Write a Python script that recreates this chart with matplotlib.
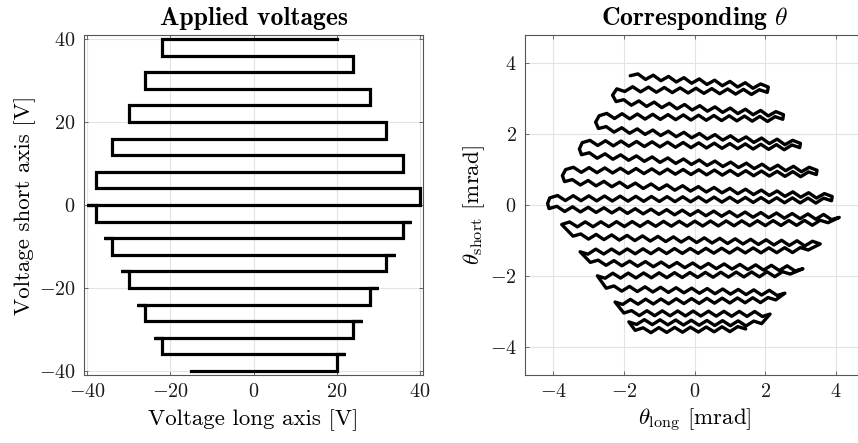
import numpy as np
import matplotlib
matplotlib.use('Agg')
import matplotlib.pyplot as plt

plt.rcParams['font.family'] = 'cmr10'
plt.rcParams['mathtext.fontset'] = 'cm'
plt.rcParams['axes.formatter.use_mathtext'] = True
plt.rcParams['axes.unicode_minus'] = True

# ---- Left panel: applied voltage scan path (vertices) [V] ----
v_long = [20, -22, -22, 24, 24, -26, -26, 28, 28, -30, -30, 32, 32, -34, -34, 36, 36, -38, -38, 40,
          40, -40, -38, -38, 38, 36, 36, -36, -34, -34, 34, 32, 32, -32, -30, -30, 30, 28, 28, -28,
          -26, -26, 26, 24, 24, -24, -22, -22, 22, 20, 20, -15]
v_short = [40, 40, 36, 36, 32, 32, 28, 28, 24, 24, 20, 20, 16, 16, 12, 12, 8, 8, 4, 4,
           0, 0, 0, -4, -4, -4, -8, -8, -8, -12, -12, -12, -16, -16, -16, -20, -20, -20, -24, -24,
           -24, -28, -28, -28, -32, -32, -32, -36, -36, -36, -40, -40]

# ---- Right panel: measured theta path corners [mrad] ----
th_long = [-1.82, 2.09, 2.06, -2.20, -2.32, -2.22, 2.52, 2.50, -2.70, -2.80, -2.72, 3.00, 2.98,
           -3.18, -3.26, -3.20, 3.47, 3.45, -3.65, -3.74, -3.68, 3.90, 3.88, -4.10, -4.16, -4.12,
           4.10, 3.78, -3.76, -3.44, 3.56, 3.22, -3.24, -2.95, 3.07, 2.71, -2.75, -2.50, 2.56, 2.30,
           -2.25, -2.00, 2.14, 1.90, -1.86, -1.68, 1.45]
th_short = [3.65, 3.33, 3.18, 3.28, 3.10, 2.92, 2.55, 2.42, 2.52, 2.34, 2.16, 1.74, 1.62,
            1.76, 1.58, 1.42, 0.98, 0.86, 1.00, 0.83, 0.66, 0.24, 0.12, 0.20, 0.04, -0.10,
            -0.35, -0.50, -0.55, -0.88, -1.10, -1.27, -1.32, -1.62, -1.80, -1.95, -2.00, -2.35, -2.49, -2.68,
            -2.74, -3.05, -3.08, -3.35, -3.30, -3.54, -3.50]
ripple_amp = 0.07      # half peak-to-peak of the scan-line oscillation [mrad]
ripple_half = 0.22     # half period of the oscillation along theta_long [mrad]


def rippled(xs, ys):
    ox, oy = [xs[0]], [ys[0]]
    for i in range(1, len(xs)):
        x0, y0, x1, y1 = xs[i - 1], ys[i - 1], xs[i], ys[i]
        dx = x1 - x0
        if abs(dx) > 0.8:
            n = int(round(abs(dx) / ripple_half))
            for k in range(1, n):
                t = k / n
                s = ripple_amp if k % 2 else -ripple_amp
                ox.append(x0 + t * dx)
                oy.append(y0 + t * (y1 - y0) + s)
        ox.append(x1)
        oy.append(y1)
    return ox, oy


W, H = 858, 443
fig = plt.figure(figsize=(W / 100, H / 100), dpi=100)

ax1 = fig.add_axes([84 / W, (H - 375) / H, 339 / W, 340 / H])
ax2 = fig.add_axes([525 / W, (H - 375) / H, 339 / W, 340 / H])

for ax in (ax1, ax2):
    ax.grid(True, color='#e3e3e3', linewidth=0.8)
    ax.set_axisbelow(True)
    for s in ax.spines.values():
        s.set_color('#555555')
        s.set_linewidth(0.8)
    ax.tick_params(direction='in', length=3, width=0.6, top=True, right=True,
                   labelsize=14.5, colors='#555555', labelcolor='#1a1a1a', pad=6)

ax1.plot(v_long, v_short, color='black', linewidth=2.3, solid_joinstyle='miter')
ax1.set_xlim(-40.8, 40.8)
ax1.set_ylim(-41, 41)
ax1.set_xticks([-40, -20, 0, 20, 40])
ax1.set_yticks([-40, -20, 0, 20, 40])
ax1.set_xlabel('Voltage long axis [V]', fontsize=16.5, labelpad=6)
ax1.set_ylabel('Voltage short axis [V]', fontsize=16.5, labelpad=2)
ax1.set_title('Applied voltages', fontsize=18.5, fontfamily='cmb10', pad=7)

rx, ry = rippled(th_long, th_short)
ax2.plot(rx, ry, color='black', linewidth=2.4, solid_joinstyle='round', solid_capstyle='round')
ax2.set_xlim(-4.8, 4.8)
ax2.set_ylim(-4.8, 4.8)
ax2.set_xticks([-4, -2, 0, 2, 4])
ax2.set_yticks([-4, -2, 0, 2, 4])
ax2.set_xlabel(r'$\theta_{\rm long}$ [mrad]', fontsize=16.5, labelpad=4)
ax2.set_ylabel(r'$\theta_{\rm short}$ [mrad]', fontsize=16.5, labelpad=2)
ax2.set_title(r'$\mathbf{Corresponding}$ $\theta$', fontsize=18.5, pad=7)

fig.savefig('out.png', dpi=100)
